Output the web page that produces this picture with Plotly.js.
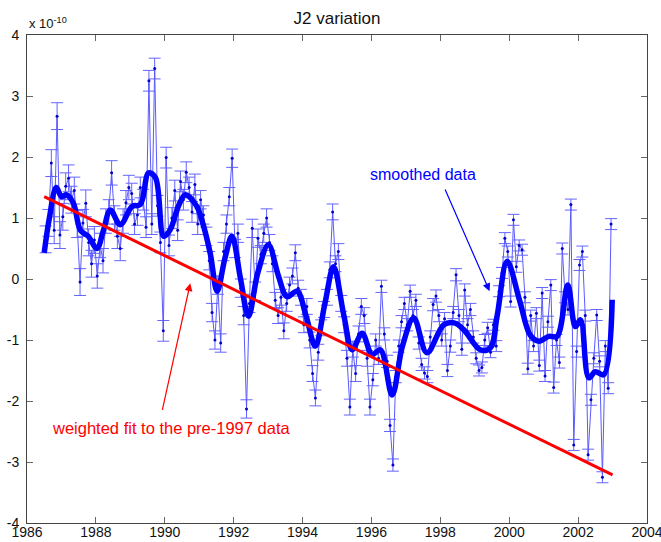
<!DOCTYPE html>
<html>
<head>
<meta charset="utf-8">
<script src="https://cdn.plot.ly/plotly-3.0.1.min.js"></script>
<style>html,body{margin:0;padding:0;background:#fff;}#chart{width:661px;height:542px;}</style>
</head>
<body>
<div id="chart"></div>
<script>
// ---- Data (units of 1e-10) ----
const startYear = 1986.54;   // first monthly sample
const monthlyValues = [
  0.65, 0.92, 1.9, 0.8, 2.67, 0.72,
  1.02, 1.52, 1.65, 1.3, 1.45, 0.9,
  -0.05, 0.92, 1.24, 0.6, 0.25, 0.64,
  0.05, 0.55, 0.3, 0.95, 1.1, 1.74,
  1.0, 0.7, 0.5, 0.95, 1.25, 1.5,
  1.4, 0.9, 1.05, 1.5, 1.3, 0.85,
  3.25, 0.9, 3.45, 1.2, 0.6, -0.85,
  1.99, 0.55, 1.0, 1.45, 0.8, 1.6,
  1.3, 1.75, 1.5, 1.1, 1.55, 0.9,
  1.3, 1.05, 0.7, 0.3, -0.55, -1.0,
  -0.1, -1.05, 0.45, 0.9, 1.35, 1.98,
  0.5, 0.75, -0.15, -0.6, -2.13, -0.4,
  0.83, -0.2, 0.67, 0.4, 0.75, 1.0,
  0.6, 0.25, -0.35, -0.6, -0.3, -0.85,
  -0.4, -0.1, 0.05, 0.43, -0.15, -0.3,
  -0.75, -0.45, -1.0, -1.55, -1.95, -1.2,
  -0.8, -0.5, -0.3, 0.15, 1.1, 0.25,
  0.45, -0.4, -0.75, -1.3, -2.1, -1.15,
  -1.55, -0.9, -0.45, -0.6, -1.3, -2.1,
  -1.65, -1.0, -1.3, -0.12, -0.9, -1.35,
  -2.4, -3.05, -1.6, -1.1, -0.7, -0.4,
  -0.75, -0.2, -0.6, -0.35, -1.05, -1.4,
  -1.54, -1.6, -0.95, -0.42, -0.28, -0.6,
  -1.0, -0.65, -1.5, -1.1, -0.55, 0.07,
  -0.6, -1.15, -0.18, -0.75, -0.5, -0.95,
  -1.3, -1.5, -1.45, -1.0, -0.8, -1.2,
  -0.75, -1.1, -0.2, 0.1, 0.67, 0.45,
  -0.37, 0.97, 0.2, 0.55, 0.48, -0.3,
  -1.47, -0.6, -1.1, -0.56, -1.42, -0.23,
  -1.59, -0.7, -0.1, -1.78, -1.0, -1.37,
  0.5, -0.3, -0.5, 1.22, -2.72, -1.19,
  0.23, 0.45, -0.6, -2.88, -1.98, -1.3,
  -0.59, -1.35, -3.25, -1.1, -1.79, 0.9
];
// error (1-sigma) per half-year block
const halfYearErrors = [
  0.22, 0.22, 0.22, 0.2, 0.2, 0.17, 0.17, 0.17, 0.17,
  0.15, 0.15, 0.15, 0.15, 0.13, 0.13, 0.13, 0.13, 0.13, 0.13,
  0.1, 0.1, 0.1, 0.1, 0.1, 0.1,
  0.09, 0.09, 0.09, 0.09, 0.09, 0.09, 0.09, 0.09
];
const smoothYears = [
  1986.5, 1986.65, 1986.85, 1987.0, 1987.15, 1987.35, 1987.55, 1987.78, 1988.03, 1988.22,
  1988.42, 1988.71, 1989.05, 1989.29, 1989.53, 1989.73, 1989.97, 1990.16, 1990.4, 1990.6,
  1990.93, 1991.1, 1991.32, 1991.52, 1991.75, 1991.95, 1992.2, 1992.43, 1992.7, 1993.01,
  1993.3, 1993.55, 1993.84, 1994.1, 1994.37, 1994.65, 1994.9, 1995.2, 1995.44, 1995.73,
  1996.02, 1996.26, 1996.6, 1996.9, 1997.23, 1997.61, 1998.1, 1998.4, 1998.68, 1999.16,
  1999.45, 1999.65, 1999.94, 2000.3, 2000.61, 2000.86, 2001.15, 2001.39, 2001.7, 2001.92,
  2002.07, 2002.31, 2002.5, 2002.74, 2002.99
];
const smoothValues = [
  0.43, 1.0, 1.5, 1.35, 1.38, 1.24, 0.8, 0.7, 0.5, 0.8,
  1.13, 0.89, 1.19, 1.22, 1.74, 1.66, 0.70, 0.81, 1.2, 1.38,
  1.19, 0.92, 0.42, -0.2, 0.35, 0.70, 0.0, -0.61, 0.1, 0.56,
  0.05, -0.29, -0.2, -0.6, -1.1, -0.4, 0.2, -0.6, -1.16, -0.89,
  -1.24, -1.16, -1.9, -1.1, -0.64, -1.21, -0.75, -0.72, -0.83, -1.16,
  -1.13, -0.6, 0.29, -0.35, -0.92, -1.02, -0.94, -0.94, -0.1, -0.78,
  -0.67, -1.62, -1.52, -1.57, -0.34
];
const fitYears = [1986.5, 2003.0];
const fitValues = [1.35, -3.21];
const xTickVals = [1986, 1988, 1990, 1992, 1994, 1996, 1998, 2000, 2002, 2004];
const xTickText = ['1986','1988','1990','1992','1994','1996','1998','2000','2002','2004'];
const yTickVals = [-4, -3, -2, -1, 0, 1, 2, 3, 4];
const yTickText = ['-4','-3','-2','-1','0','1','2','3','4'];

// ---- Build ----
const years = monthlyValues.map((v, i) => startYear + i / 12);
const errs = monthlyValues.map((v, i) => halfYearErrors[Math.floor(i / 6)]);

const FONT = '"Liberation Sans", Arial, Helvetica, sans-serif';

const traces = [
  {
    x: years, y: monthlyValues, type: 'scatter', mode: 'lines+markers',
    line: {color: 'rgb(90,90,255)', width: 1},
    marker: {color: '#0000cc', size: 3},
    error_y: {type: 'data', array: errs, visible: true, color: 'rgb(100,100,255)', thickness: 1, width: 6},
    hoverinfo: 'skip', showlegend: false
  },
  {
    x: smoothYears, y: smoothValues, type: 'scatter', mode: 'lines',
    line: {color: '#0000ff', width: 5.5, shape: 'spline', smoothing: 1},
    hoverinfo: 'skip', showlegend: false
  },
  {
    x: fitYears, y: fitValues, type: 'scatter', mode: 'lines',
    line: {color: '#ff0000', width: 3},
    hoverinfo: 'skip', showlegend: false
  }
];

const axisCommon = {
  showgrid: false, zeroline: false, showline: true, linecolor: '#444', linewidth: 1,
  mirror: 'ticks', ticks: 'inside', ticklen: 6, tickcolor: '#666', tickwidth: 1,
  ticklabeloverflow: 'allow',
  tickfont: {family: FONT, size: 14, color: '#111'}
};

const layout = {
  width: 661, height: 542,
  margin: {l: 27, r: 14, t: 35, b: 19},
  paper_bgcolor: '#fff', plot_bgcolor: '#fff',
  showlegend: false,
  title: {text: 'J2 variation', x: 0.5, xref: 'paper', y: 1 - 18 / 542, yref: 'container', yanchor: 'middle',
          font: {family: FONT, size: 17, color: '#111'}},
  xaxis: Object.assign({}, axisCommon, {range: [1986, 2004], tickmode: 'array', tickvals: xTickVals, ticktext: xTickText, ticklabelstandoff: -4}),
  yaxis: Object.assign({}, axisCommon, {range: [-4, 4], tickmode: 'array', tickvals: yTickVals, ticktext: yTickText, ticklabelstandoff: 4}),
  annotations: [
    {xref: 'paper', yref: 'paper', x: 0, y: 1, xanchor: 'left', yanchor: 'bottom', yshift: 2, showarrow: false,
     text: 'x 10<sup>-10</sup>', font: {family: FONT, size: 13, color: '#111'}},
    {x: 1997.51, y: 1.71, xref: 'x', yref: 'y', showarrow: false, text: 'smoothed data',
     font: {family: FONT, size: 16, color: '#0000ff'}},
    {x: 1999.43, y: -0.2, ax: 1998.12, ay: 1.49, xref: 'x', yref: 'y', axref: 'x', ayref: 'y',
     text: '', showarrow: true, arrowhead: 2, arrowsize: 1.3, arrowwidth: 1.2, arrowcolor: '#0000ff'},
    {x: 1990.18, y: -2.44, xref: 'x', yref: 'y', showarrow: false, text: 'weighted fit to the pre-1997 data',
     font: {family: FONT, size: 16.5, color: '#ff0000'}},
    {x: 1990.74, y: -0.07, ax: 1989.92, ay: -2.17, xref: 'x', yref: 'y', axref: 'x', ayref: 'y',
     text: '', showarrow: true, arrowhead: 2, arrowsize: 1.3, arrowwidth: 1.2, arrowcolor: '#ff0000'}
  ]
};

Plotly.newPlot('chart', traces, layout, {staticPlot: true, displayModeBar: false});
</script>
</body>
</html>
